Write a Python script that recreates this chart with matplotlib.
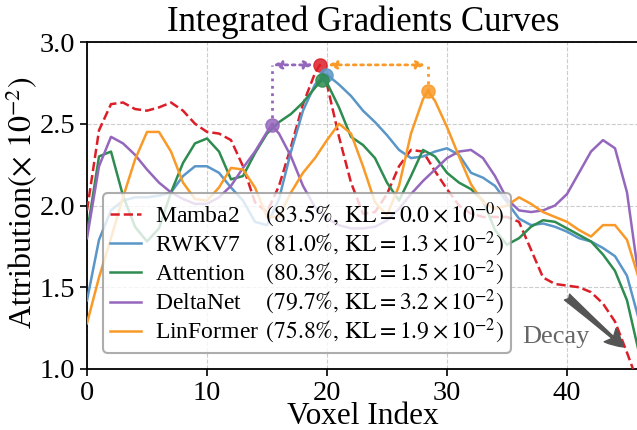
import numpy as np
import matplotlib
matplotlib.use("Agg")
import matplotlib.pyplot as plt
from matplotlib.font_manager import FontProperties

plt.rcParams['font.family'] = 'serif'
plt.rcParams['font.serif'] = ['Liberation Serif', 'DejaVu Serif']
plt.rcParams['mathtext.fontset'] = 'stix'

# valores (un punto por voxel)
voxel = np.arange(47)
mamba2 = [1.97, 2.46, 2.62, 2.63, 2.59, 2.58, 2.60, 2.63, 2.58, 2.50, 2.45, 2.44, 2.40, 2.24, 2.02, 1.96,
          2.12, 2.36, 2.62, 2.81, 2.74, 2.42, 2.14, 1.95, 1.96, 2.07, 2.24, 2.34, 2.33, 2.21, 2.10, 2.00,
          1.95, 1.93, 1.93, 1.93, 1.90, 1.73, 1.56, 1.52, 1.51, 1.50, 1.47, 1.40, 1.29, 1.10, 0.90]
rwkv7 = [1.42, 1.79, 1.97, 2.03, 2.05, 2.05, 2.06, 2.08, 2.18, 2.24, 2.24, 2.20, 2.11, 2.03, 1.90, 1.88,
         2.04, 2.33, 2.58, 2.74, 2.80, 2.74, 2.67, 2.58, 2.51, 2.43, 2.34, 2.29, 2.30, 2.33, 2.35, 2.31,
         2.20, 2.17, 2.12, 2.02, 1.92, 1.88, 1.89, 1.87, 1.84, 1.80, 1.78, 1.74, 1.69, 1.57, 1.30]
attention = [1.83, 2.30, 2.33, 2.06, 1.87, 1.78, 1.86, 2.08, 2.26, 2.38, 2.41, 2.33, 2.16, 2.18, 2.32, 2.44,
             2.51, 2.56, 2.63, 2.72, 2.75, 2.60, 2.42, 2.37, 2.29, 2.14, 2.03, 2.18, 2.34, 2.30, 2.20, 2.14,
             2.10, 2.03, 1.85, 1.76, 1.80, 1.87, 1.91, 1.90, 1.86, 1.82, 1.78, 1.70, 1.60, 1.42, 1.10]
deltanet = [1.80, 2.24, 2.42, 2.38, 2.31, 2.22, 2.14, 2.08, 2.04, 2.01, 2.01, 2.05, 2.12, 2.23, 2.33, 2.45,
            2.44, 2.30, 2.12, 1.99, 1.92, 1.88, 1.86, 1.86, 1.87, 1.91, 1.98, 2.07, 2.15, 2.22, 2.29, 2.33,
            2.34, 2.29, 2.18, 2.04, 1.97, 1.96, 1.97, 2.00, 2.07, 2.20, 2.33, 2.40, 2.35, 2.08, 1.55]
linformer = [1.28, 1.56, 1.80, 2.05, 2.28, 2.45, 2.45, 2.33, 2.14, 2.04, 2.03, 2.11, 2.23, 2.22, 2.11, 1.93,
             1.93, 2.08, 2.20, 2.29, 2.40, 2.50, 2.44, 2.24, 2.02, 1.94, 2.12, 2.44, 2.65, 2.64, 2.48, 2.30,
             2.13, 2.02, 1.98, 2.00, 2.05, 2.01, 1.96, 1.93, 1.90, 1.85, 1.81, 1.88, 1.88, 1.79, 1.55]

names = ["Mamba2", "RWKV7", "Attention", "DeltaNet", "LinFormer"]
acc = [83.5, 81.0, 80.3, 79.7, 75.8]
kl = [0.0, 1.3, 1.5, 3.2, 1.9]
kl_exp = [0, 2, 2, 2, 2]
# maximos marcados con circulos
peak_x = [19.4, 19.9, 19.6, 15.4, 28.4]
peak_y = [2.86, 2.80, 2.77, 2.49, 2.70]

series = [mamba2, rwkv7, attention, deltanet, linformer]
colors = ['#dc1e28', '#5a96c8', '#2e8c50', '#9467bd', '#f99a28']
styles = ['--', '-', '-', '-', '-']

fig = plt.figure(figsize=(6.37, 4.30), dpi=100)
ax = fig.add_axes([87 / 637, 61 / 430, 552 / 637, 327 / 430])

handles = []
for vals, px, py, c, ls in zip(series, peak_x, peak_y, colors, styles):
    idx = np.searchsorted(voxel, px)
    xs = np.insert(voxel.astype(float), idx, px)
    ys = np.insert(np.array(vals, dtype=float), idx, py)
    h, = ax.plot(xs, ys, color=c, ls=ls, lw=1.8, zorder=3)
    handles.append(h)
    ax.plot(px, py, 'o', color=c, ms=9.5, alpha=0.85, zorder=5)

# flechas punteadas entre maximos
arrow_y = peak_y[0]
c_p, c_o = colors[3], colors[4]
ax.plot([peak_x[3], peak_x[3]], [peak_y[3], arrow_y], ls=':', color=c_p, lw=2, zorder=4)
ax.annotate('', xy=(peak_x[3], arrow_y), xytext=(peak_x[0], arrow_y),
            arrowprops=dict(arrowstyle='<|-|>', ls=':', lw=2, color=c_p,
                            shrinkA=5, shrinkB=1, mutation_scale=12), zorder=4)
ax.plot([peak_x[4], peak_x[4]], [peak_y[4], arrow_y], ls=':', color=c_o, lw=2, zorder=4)
ax.annotate('', xy=(peak_x[4], arrow_y), xytext=(peak_x[0], arrow_y),
            arrowprops=dict(arrowstyle='<|-|>', ls=':', lw=2, color=c_o,
                            shrinkA=6, shrinkB=2, mutation_scale=12), zorder=4)

# Decay
ax.annotate('', xy=(44.7, 1.135), xytext=(40.0, 1.44),
            arrowprops=dict(arrowstyle='fancy,head_length=0.8,head_width=0.8,tail_width=0.35',
                            color='#555555', mutation_scale=16, shrinkA=0, shrinkB=0))
ax.text(36.3, 1.16, 'Decay', color='#666666', fontsize=19, va='baseline', ha='left')

ax.set_xlim(0, 46)
ax.set_ylim(1.0, 3.0)
ax.set_xticks([0, 10, 20, 30, 40])
ax.set_yticks([1.0, 1.5, 2.0, 2.5, 3.0])
ax.tick_params(labelsize=20.5, direction='out', length=5, width=1.2)
ax.grid(True, ls='--', color='#cccccc', lw=0.8)
for s in ax.spines.values():
    s.set_linewidth(1.3)
ax.set_title('Integrated Gradients Curves', fontsize=25, pad=8)
ax.set_xlabel('Voxel Index', fontsize=22.5, labelpad=-3)
ax.set_ylabel(r'Attribution$(\times\ 10^{-2})$', fontsize=23)
ax.yaxis.set_label_coords(-0.086, 0.51)

# etiquetas de la leyenda alineadas en dos columnas
fs = 17
r = fig.canvas.get_renderer()
fp = FontProperties(family='serif', size=fs)
unit = (r.get_text_width_height_descent(r'$x\hspace{10}x$', fp, ismath=True)[0]
        - r.get_text_width_height_descent(r'$xx$', fp, ismath=True)[0]) / 10
stats = [r'(%.1f\%%,\,\mathrm{KL} = %.1f \times 10^{-%d})' % (a, k, e) for a, k, e in zip(acc, kl, kl_exp)]
w0 = [r.get_text_width_height_descent(n + r'$\hspace{0}' + s + '$', fp, ismath=True)[0]
      for n, s in zip(names, stats)]
gap = 0.35 * fs * fig.dpi / 72
labels = [n + r'$\hspace{%.3f}' % ((max(w0) - w + gap) / unit) + s + '$'
          for n, s, w in zip(names, stats, w0)]

leg = ax.legend(handles, labels, loc='lower left', bbox_to_anchor=(0.029, 0.049), borderaxespad=0,
                fontsize=fs, handlelength=1.3, handletextpad=0.6, labelspacing=0.0,
                borderpad=0.3, framealpha=0.8, edgecolor='#999999', fancybox=True)
leg.get_frame().set_linewidth(1.5)
leg.set_zorder(6)

fig.savefig('out.png', dpi=100)
